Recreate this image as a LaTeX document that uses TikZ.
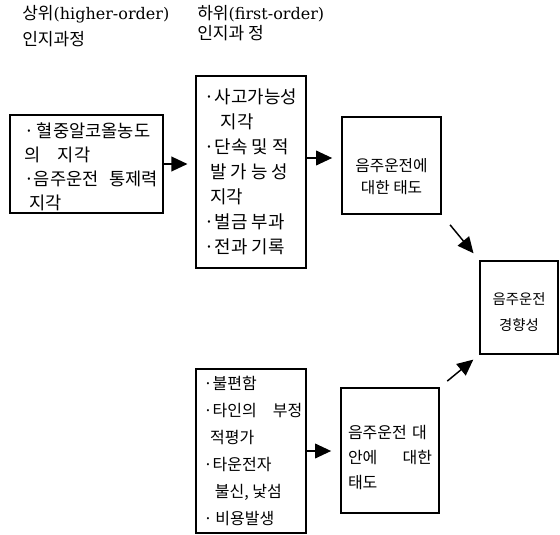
\documentclass[tikz,border=0pt]{standalone}
\usepackage{fontspec}
\setmainfont{Noto Sans CJK KR}
\newfontfamily\latinserif{DejaVu Serif}
\usetikzlibrary{arrows.meta}
\begin{document}
\begin{tikzpicture}[x=0.75pt,y=-0.75pt,
  box/.style={draw, line width=0.8pt, inner sep=0pt},
  txt/.style 2 args={inner sep=0pt, align=left, font=\fontsize{#1}{#2}\selectfont},
  hdr/.style={inner sep=0pt, anchor=west, font=\fontsize{12}{14}\selectfont},
  hdrk/.style={font=\fontsize{12.8}{14}\selectfont},
  link/.style={-{Triangle[length=12pt,width=11pt]}, line width=1.1pt}]
\useasboundingbox (0,0) rectangle (560,535);

% column headings
\node[hdr] (h1a) at (22,14) {{\fontsize{12.8}{14}\selectfont 상위}{\latinserif(higher-order)}};
\node[hdr, hdrk] (h1b) at (22,39) {인지과정};
\node[hdr] (h2a) at (197,14) {{\fontsize{12.8}{14}\selectfont 하위}{\latinserif(first-order)}};
\node[hdr, hdrk] (h2b) at (197,33) {인지과 정};

% boxes
\node[box, minimum width=114.75pt, minimum height=73.5pt] (hi) at (86.5,164) {};
\node[box, minimum width=82.5pt, minimum height=144pt] (lo1) at (251,172) {};
\node[box, minimum width=74.25pt, minimum height=72.75pt] (att1) at (391.5,165.5) {};
\node[box, minimum width=58.5pt, minimum height=69.75pt] (res) at (519,307.5) {};
\node[box, minimum width=82.5pt, minimum height=123pt] (lo2) at (251,451) {};
\node[box, minimum width=73.5pt, minimum height=93.75pt] (att2) at (390,450.5) {};

% box texts
\node[txt={13.2pt}{18pt}] (hi-t) at (91,167) {·\,혈중알코올농도\\
의\hspace{1em}지각\\
·음주운전\hspace{0.6em}통제력\\
\hspace{0.3em}지각};
\node[txt={13.4pt}{18.75pt}] (lo1-t) at (251,172) {·사고가능성\\
\hspace{0.9em}지각\\
·단속 및 적\\
\hspace{0.3em}발 가 능 성\\
\hspace{0.3em}지각\\
·벌금 부과\\
·전과 기록};
\node[txt={11.8pt}{16.5pt}, align=center] (att1-t) at (391.5,177) {음주운전에\\대한 태도};
\node[txt={10.8pt}{19.5pt}, align=center] (res-t) at (519,312) {음주운전\\경향성};
\node[txt={12pt}{20.25pt}] (lo2-t) at (253,450.5) {·불편함\\
·타인의\hspace{1em}부정\\
\hspace{0.4em}적평가\\
·타운전자\\
\hspace{0.7em}불신, 낯섬\\
·\,비용발생};
\node[txt={12pt}{18.75pt}, text width=63pt] (att2-t) at (390,458) {음주운전 대\\
안에\hfill 대한\\
태도};

% connectors
\draw[link, shorten >=6pt] (hi.east) -- (hi.east -| lo1.west);
\draw[link, shorten >=7pt] ([yshift=10.5pt]lo1.east) coordinate (a2s) -- (a2s -| att1.west);
\draw[link, shorten >=7pt] (lo2.east) -- (lo2.east -| att2.west);
\draw[link, shorten <=10pt, shorten >=7pt] (att1.south east) -- (res.north west);
\draw[link, shorten <=7.5pt, shorten >=6pt] (att2.north east) -- (res.south west);
\end{tikzpicture}
\end{document}
